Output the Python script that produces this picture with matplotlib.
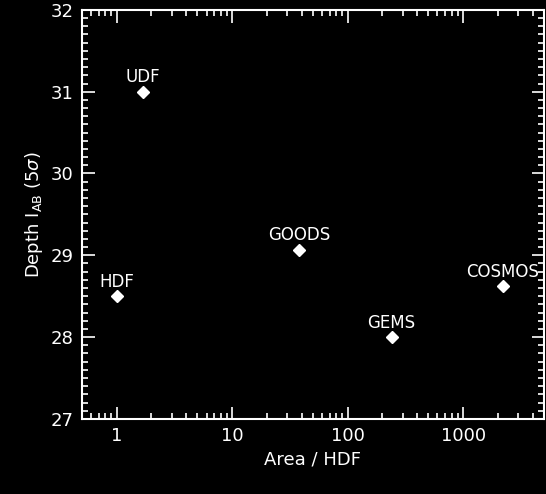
import matplotlib
matplotlib.use("Agg")
import matplotlib.pyplot as plt
from matplotlib.ticker import LogLocator, MultipleLocator, FixedLocator, NullFormatter

# survey data: area in units of the HDF, depth in I_AB (5 sigma)
surveys = ["HDF", "UDF", "GOODS", "GEMS", "COSMOS"]
area = [1.0, 1.7, 38, 240, 2200]
depth = [28.5, 31.0, 29.07, 28.0, 28.62]

fig = plt.figure(figsize=(5.46, 4.94), dpi=100, facecolor="black")
ax = fig.add_axes([0.150, 0.152, 0.846, 0.828])
ax.set_facecolor("black")

ax.plot(area, depth, linestyle="none", marker="D", markersize=6,
        color="white", markeredgecolor="white")

for name, x, y in zip(surveys, area, depth):
    ax.annotate(name, (x, y), xytext=(0, 4), textcoords="offset points",
                ha="center", va="bottom", color="white", fontsize=12)

ax.set_xscale("log")
ax.set_xlim(0.5, 5000)
ax.set_ylim(27, 32)

ax.xaxis.set_major_locator(FixedLocator([1, 10, 100, 1000]))
ax.xaxis.set_major_formatter(plt.FuncFormatter(lambda v, p: f"{v:g}"))
ax.xaxis.set_minor_locator(LogLocator(base=10, subs=range(2, 10), numticks=20))
ax.xaxis.set_minor_formatter(NullFormatter())
ax.yaxis.set_major_locator(MultipleLocator(1))
ax.yaxis.set_minor_locator(MultipleLocator(0.1))

for s in ax.spines.values():
    s.set_color("white")
    s.set_linewidth(1.5)

ax.tick_params(which="both", direction="in", colors="white", top=True, right=True,
               labelsize=13, width=1.2)
ax.tick_params(which="major", length=9, pad=6)
ax.tick_params(which="minor", length=4)

ax.set_xlabel("Area / HDF", color="white", fontsize=13)
ax.set_ylabel(r"Depth I$_{\rm AB}$ (5$\sigma$)", color="white", fontsize=13)

fig.savefig("out.png", dpi=100, facecolor="black")
